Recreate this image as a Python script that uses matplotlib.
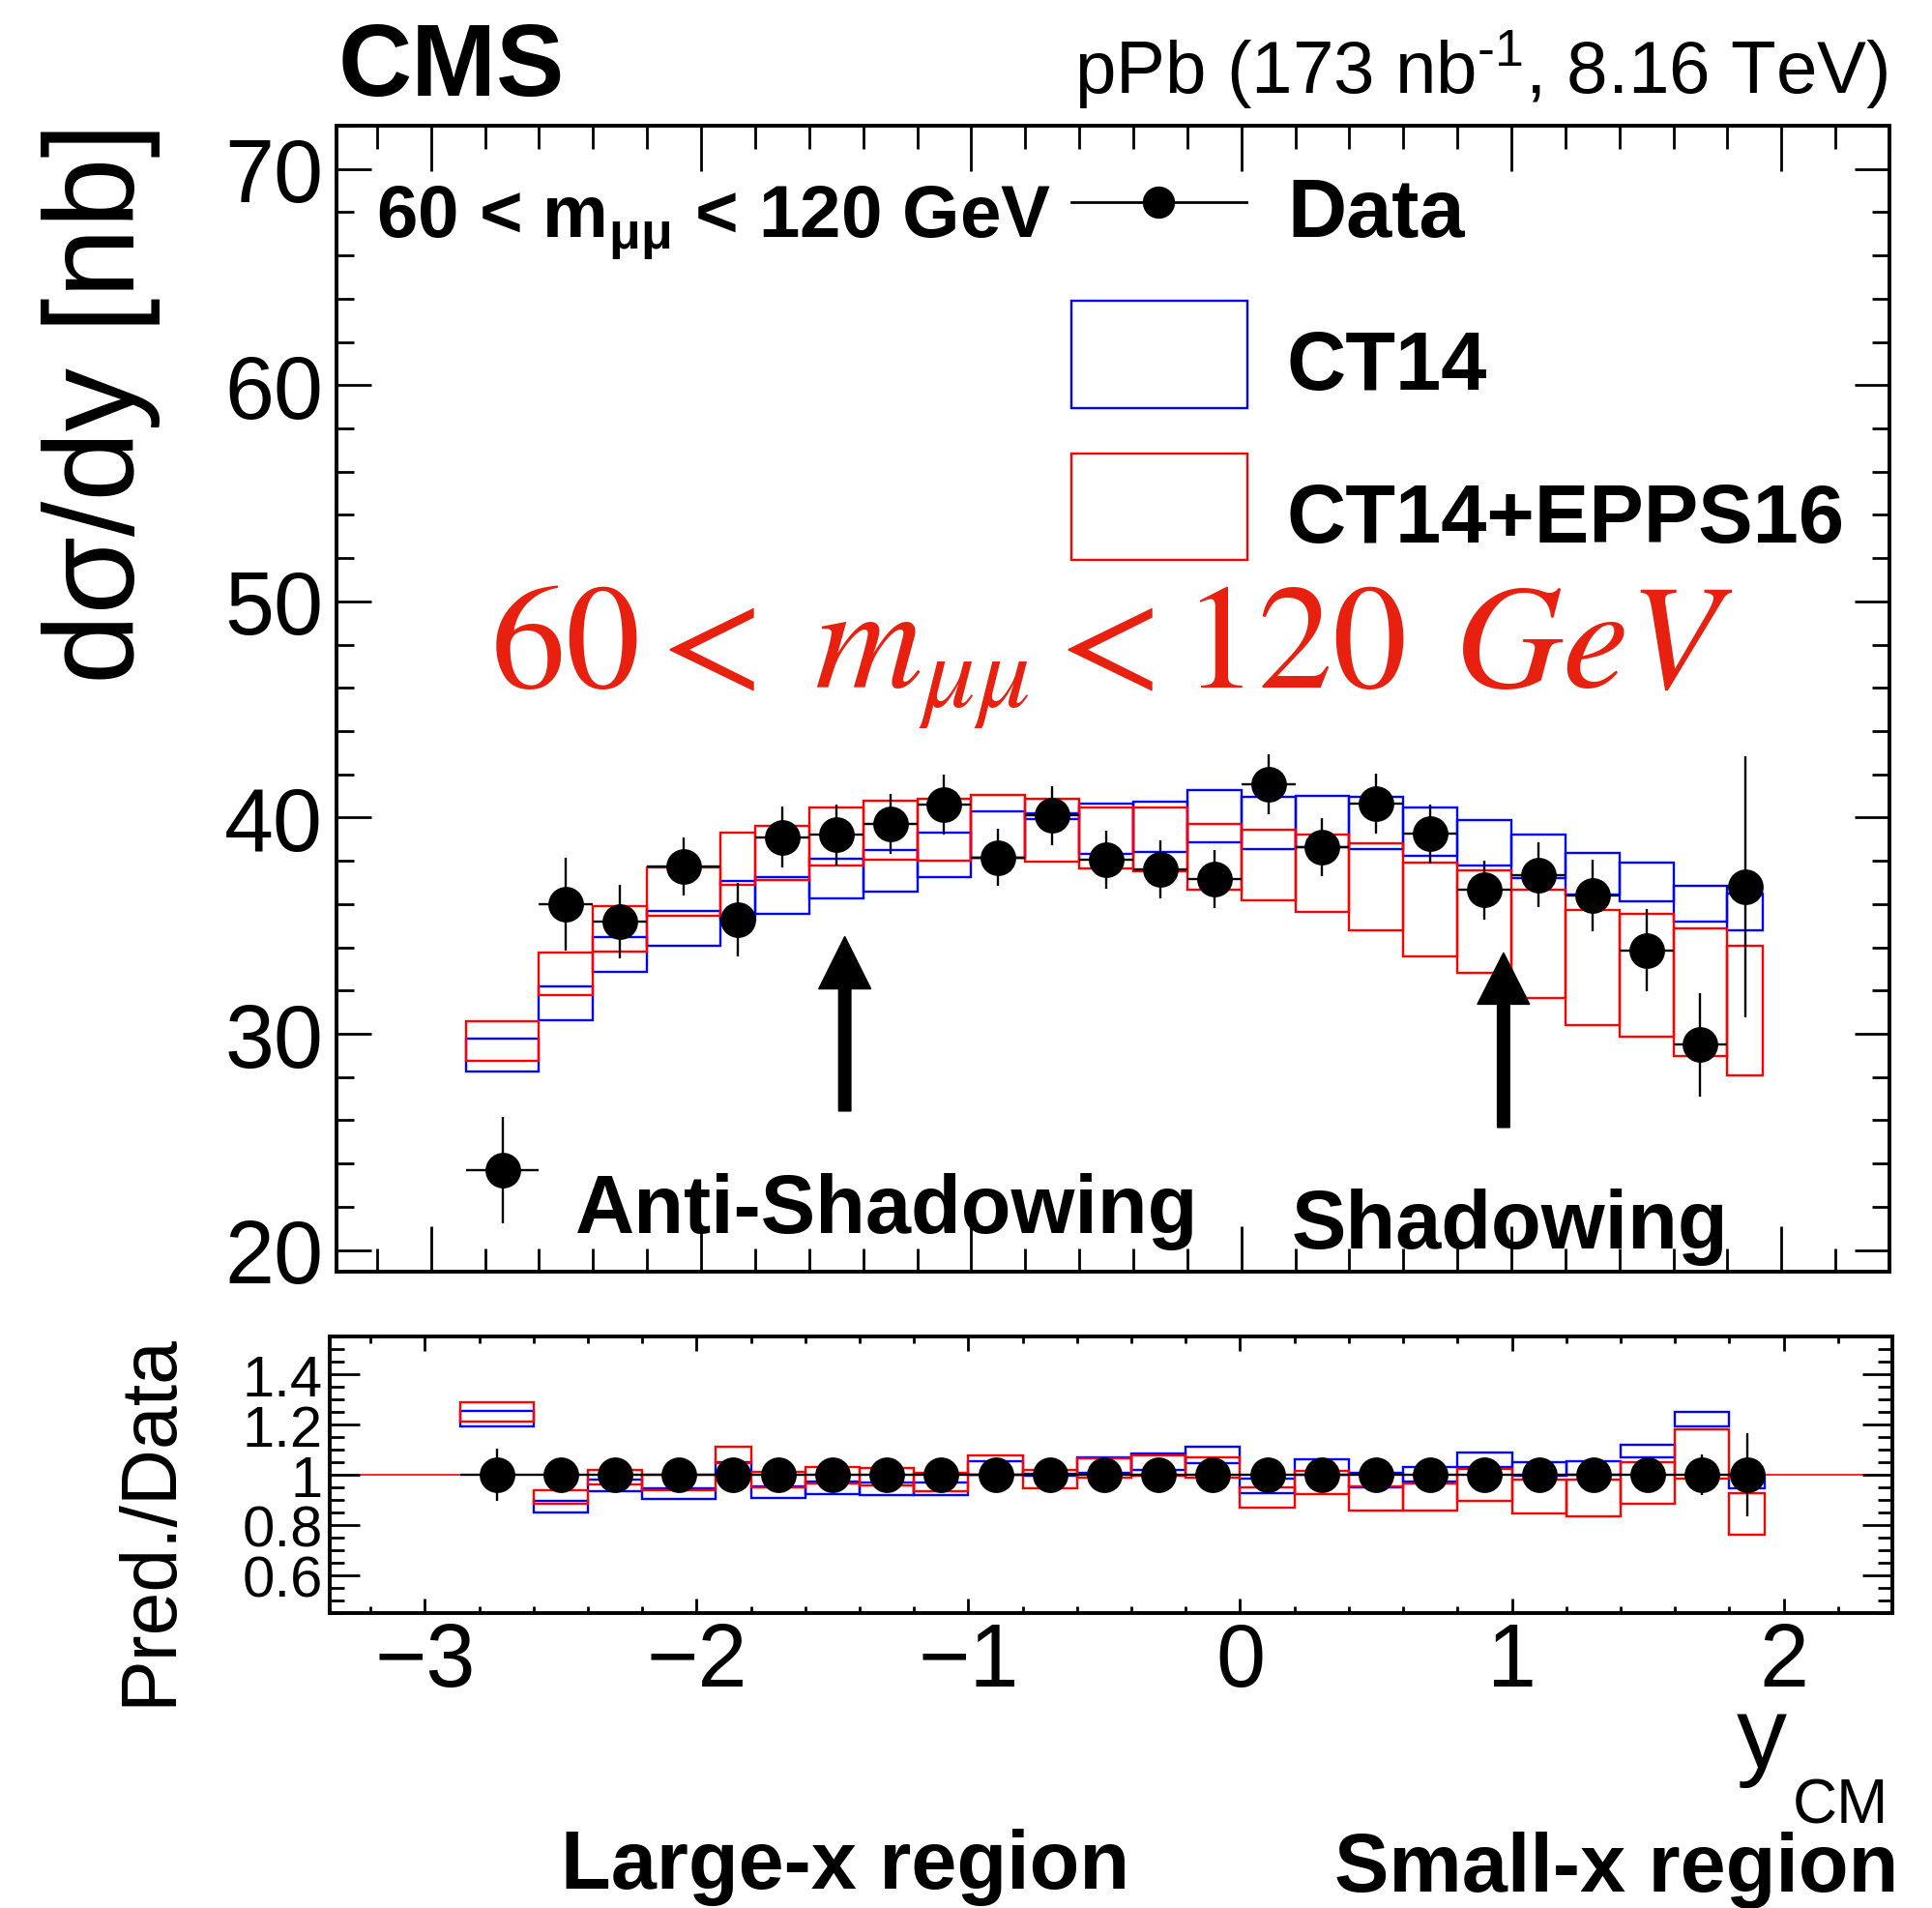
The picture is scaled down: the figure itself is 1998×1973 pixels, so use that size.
import numpy as np
import matplotlib
matplotlib.use('Agg')
import matplotlib.pyplot as plt
from matplotlib.patches import Rectangle, FancyArrow
from matplotlib.lines import Line2D
from matplotlib.ticker import MultipleLocator, FixedLocator, FixedFormatter

plt.rcParams['font.family'] = ['Liberation Sans', 'DejaVu Sans']
plt.rcParams['mathtext.fontset'] = 'custom'
plt.rcParams['mathtext.rm'] = 'Liberation Sans'
plt.rcParams['mathtext.bf'] = 'Liberation Sans:bold'
plt.rcParams['mathtext.it'] = 'Liberation Sans:italic'

# --- data (y_CM bins) ---
edges = np.array([-2.87, -2.6, -2.4, -2.2, -1.93, -1.8, -1.6, -1.4, -1.2, -1.0,
                  -0.8, -0.6, -0.4, -0.2, 0.0, 0.2, 0.4, 0.6, 0.8, 1.0,
                  1.2, 1.4, 1.6, 1.8, 1.93])
data = np.array([23.7, 36.0, 35.2, 37.75, 35.3, 39.1, 39.2, 39.7, 40.6, 38.15,
                 40.1, 38.05, 37.6, 37.15, 41.55, 38.65, 40.65, 39.25, 36.65, 37.35,
                 36.4, 33.85, 29.5, 36.8])
data_err = np.array([2.45, 2.15, 1.7, 1.35, 1.7, 1.4, 1.4, 1.4, 1.37, 1.32,
                     1.37, 1.34, 1.33, 1.33, 1.38, 1.34, 1.38, 1.37, 1.37, 1.5,
                     1.66, 1.9, 2.4, 6.05])
ct14_lo = np.array([28.26, 30.65, 32.87, 34.09, 35.3, 35.54, 36.26, 36.56, 37.25, 38.15,
                    39.95, 38.3, 38.39, 38.85, 38.56, 38.63, 38.55, 38.23, 37.77, 37.22,
                    36.43, 36.13, 35.18, 34.79])
ct14_hi = np.array([29.76, 32.2, 34.46, 35.68, 37.08, 37.26, 38.11, 38.51, 39.30, 40.27,
                    40.2, 40.63, 40.74, 41.27, 40.94, 41.01, 40.97, 40.46, 39.9, 39.2,
                    38.36, 37.92, 36.85, 36.47])
epps_lo = np.array([28.73, 31.79, 33.79, 35.46, 36.89, 37.1, 37.8, 38.04, 38.01, 38.15,
                    37.95, 37.65, 37.51, 36.67, 36.16, 35.65, 34.79, 33.6, 32.83, 31.64,
                    30.4, 29.88, 28.99, 28.07])
epps_hi = np.array([30.57, 33.76, 35.91, 37.69, 39.29, 39.6, 40.48, 40.79, 40.86, 41.06,
                    40.86, 40.49, 40.46, 39.73, 39.43, 39.23, 38.8, 37.92, 37.54, 36.67,
                    35.73, 35.54, 34.88, 34.09])

centers = 0.5 * (edges[:-1] + edges[1:])
halfw = 0.5 * np.diff(edges)
widths = np.diff(edges)

W, H = 1998, 1974
fig = plt.figure(figsize=(W / 100, H / 100), dpi=100)


def fx(px):
    return px / W


def fy(py):
    return 1 - py / H


def ftext(x, y, s, **kw):
    kw.setdefault('va', 'baseline')
    return fig.text(fx(x), fy(y), s, **kw)


ax = fig.add_axes([fx(348), fy(1316), (1954 - 348) / W, (1316 - 131) / H])
ax2 = fig.add_axes([fx(341), fy(1669), (1957 - 341) / W, (1669 - 1383) / H])

LW = 1.7
MS = 26.5

# upper panel
ax.bar(edges[:-1], ct14_hi - ct14_lo, width=widths, bottom=ct14_lo, align='edge',
       fill=False, edgecolor='#0000ff', linewidth=LW, zorder=2)
ax.bar(edges[:-1], epps_hi - epps_lo, width=widths, bottom=epps_lo, align='edge',
       fill=False, edgecolor='#ff0000', linewidth=LW, zorder=3)
ax.errorbar(centers, data, xerr=halfw, yerr=data_err, fmt='o', color='k', ms=MS,
            mew=0, capsize=7, elinewidth=LW, capthick=LW, zorder=5)

ax.set_xlim(-3.35, 2.4)
ax.set_ylim(19, 72)
ax.xaxis.set_major_locator(MultipleLocator(1))
ax.xaxis.set_minor_locator(MultipleLocator(0.2))
ax.yaxis.set_major_locator(MultipleLocator(10))
ax.yaxis.set_minor_locator(MultipleLocator(2))
ax.tick_params(axis='both', which='both', direction='in', top=True, right=True, width=2.0)
ax.tick_params(axis='x', which='major', length=34)
ax.tick_params(axis='x', which='minor', length=17)
ax.tick_params(axis='y', which='major', length=26, labelsize=66, pad=10)
ax.tick_params(axis='y', which='minor', length=13)
ax.tick_params(axis='x', labelbottom=False)

# arrows
ax.add_patch(FancyArrow(-1.468, 26.43, 0, 34.5 - 26.43, width=0.045, head_width=0.193,
                        head_length=2.42, length_includes_head=True, color='k', zorder=6))
ax.add_patch(FancyArrow(0.971, 25.67, 0, 33.75 - 25.67, width=0.045, head_width=0.193,
                        head_length=2.38, length_includes_head=True, color='k', zorder=6))

# lower panel
ax2.axhline(1.0, color='#ff0000', lw=1.2, zorder=1)
ax2.bar(edges[:-1], (ct14_hi - ct14_lo) / data, width=widths, bottom=ct14_lo / data,
        align='edge', fill=False, edgecolor='#0000ff', linewidth=LW, zorder=2)
ax2.bar(edges[:-1], (epps_hi - epps_lo) / data, width=widths, bottom=epps_lo / data,
        align='edge', fill=False, edgecolor='#ff0000', linewidth=LW, zorder=3)
ax2.errorbar(centers, np.ones_like(data), xerr=halfw, yerr=data_err / data, fmt='o',
             color='k', ms=MS, mew=0, capsize=7, elinewidth=LW, capthick=LW, zorder=5)

ax2.set_xlim(-3.35, 2.4)
ax2.set_ylim(0.45, 1.55)
ax2.xaxis.set_major_locator(MultipleLocator(1))
ax2.xaxis.set_minor_locator(MultipleLocator(0.2))
ax2.yaxis.set_major_locator(FixedLocator([0.6, 0.8, 1.0, 1.2, 1.4]))
ax2.yaxis.set_major_formatter(FixedFormatter(['0.6', '0.8', '1', '1.2', '1.4']))
ax2.yaxis.set_minor_locator(MultipleLocator(0.05))
ax2.tick_params(axis='both', which='both', direction='in', top=True, right=True, width=2.0)
ax2.tick_params(axis='x', which='major', length=11, labelsize=66, pad=6)
ax2.tick_params(axis='x', which='minor', length=5)
ax2.tick_params(axis='y', which='major', length=22, labelsize=43, pad=5)
ax2.tick_params(axis='y', which='minor', length=11)

for a in (ax, ax2):
    for sp in a.spines.values():
        sp.set_linewidth(2.8)

# texts
ftext(350, 99, 'CMS', fontsize=76, fontweight='bold')
ftext(1953, 97, r'pPb (173 nb$^{\text{-1}}$, 8.16 TeV)', fontsize=55, ha='right')
fig.text(fx(105), fy(417), 'dσ/dy [nb]', rotation=90, fontsize=94, ha='center', va='center')
fig.text(fx(155), fy(1572), 'Pred./Data', rotation=90, fontsize=58, ha='center', va='center')

ftext(389, 245, r'60 < m$_{\mathbf{μμ}}$ < 120 GeV', fontsize=55, fontweight='bold')

# legend
fig.add_artist(Line2D([fx(1108), fx(1289)], [fy(210), fy(210)], color='k', lw=2.0,
                      transform=fig.transFigure))
fig.add_artist(Line2D([fx(1198)], [fy(210)], marker='o', ms=24, mew=0, color='k',
                      transform=fig.transFigure))
fig.add_artist(Rectangle((fx(1108), fy(423)), 182 / W, 111 / H, fill=False,
                         edgecolor='#0000ff', lw=LW, transform=fig.transFigure))
fig.add_artist(Rectangle((fx(1108), fy(580)), 182 / W, 110 / H, fill=False,
                         edgecolor='#ff0000', lw=LW, transform=fig.transFigure))
ftext(1331, 245, 'Data', fontsize=61, fontweight='bold')
ftext(1331, 403, 'CT14', fontsize=61, fontweight='bold')
ftext(1331, 561, 'CT14+EPPS16', fontsize=61, fontweight='bold')

ftext(507, 711, r'$60 <\; m_{\mu\mu} < 120\;\, GeV$', math_fontfamily='stix', fontsize=111,
      color='#e8200f')

ftext(595, 1275, 'Anti-Shadowing', fontsize=61, fontweight='bold')
ftext(1336, 1291, 'Shadowing', fontsize=61, fontweight='bold')

ftext(1796, 1827, 'y', fontsize=75)
ftext(1953, 1886, 'CM', fontsize=46, ha='right')

ftext(580, 1953, 'Large-x region', fontsize=61, fontweight='bold')
ftext(1380, 1956, 'Small-x region', fontsize=61, fontweight='bold')

fig.savefig('out.png', dpi=100)
